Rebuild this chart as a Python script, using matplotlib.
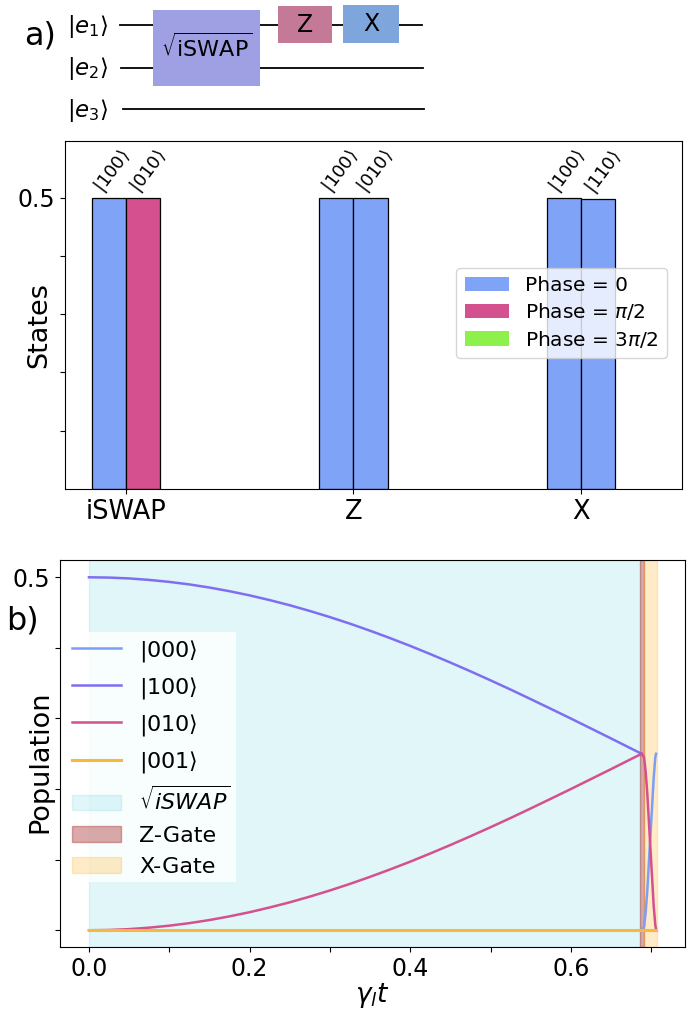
import numpy as np
import matplotlib
matplotlib.use("Agg")
import matplotlib.pyplot as plt
from matplotlib.patches import Patch, Rectangle

# ---------------- data ----------------
# panel a: bar chart of states after each gate
gates = ["iSWAP", "Z", "X"]
left_states = [r"$|100\rangle$", r"$|100\rangle$", r"$|100\rangle$"]
right_states = [r"$|010\rangle$", r"$|010\rangle$", r"$|110\rangle$"]
left_amp = [0.5, 0.5, 0.5]
right_amp = [0.5, 0.5, 0.498]
left_phase = [0, 0, 0]          # index into phase_labels
right_phase = [1, 0, 0]
phase_labels = [r"Phase = 0", r"Phase = $\pi/2$", r"Phase = $3\pi/2$"]
phase_colors = ["#7fa3f6", "#d4508e", "#8ef04a"]

# panel b: populations vs time
t_main = [0.0, 0.025, 0.05, 0.075, 0.10, 0.125, 0.15, 0.175, 0.20, 0.225,
          0.25, 0.275, 0.30, 0.325, 0.35, 0.375, 0.40, 0.425, 0.45, 0.475,
          0.50, 0.525, 0.55, 0.575, 0.60, 0.625, 0.65, 0.675, 0.688]
p100_main = [0.5000, 0.4996, 0.4984, 0.4963, 0.4935, 0.4899, 0.4855, 0.4803,
             0.4744, 0.4677, 0.4604, 0.4523, 0.4436, 0.4343, 0.4243, 0.4138,
             0.4028, 0.3912, 0.3792, 0.3668, 0.3540, 0.3409, 0.3274, 0.3137,
             0.2999, 0.2858, 0.2717, 0.2574, 0.2500]
p010_main = [0.0000, 0.0004, 0.0016, 0.0037, 0.0065, 0.0101, 0.0145, 0.0197,
             0.0256, 0.0323, 0.0396, 0.0477, 0.0564, 0.0657, 0.0757, 0.0862,
             0.0972, 0.1088, 0.1208, 0.1332, 0.1460, 0.1591, 0.1726, 0.1863,
             0.2001, 0.2142, 0.2283, 0.2426, 0.2500]
t_xgate = [0.688, 0.691, 0.693, 0.695, 0.697, 0.699, 0.701, 0.703, 0.705, 0.706]
p000_xgate = [0.000, 0.005, 0.025, 0.055, 0.095, 0.135, 0.175, 0.215, 0.245, 0.250]
p010_xgate = [0.250, 0.245, 0.225, 0.195, 0.155, 0.115, 0.075, 0.035, 0.008, 0.000]
t_001 = [0.0, 0.706]
p001 = [0.0, 0.0]
gate_bounds = [0.0, 0.686, 0.691, 0.707]   # sqrt(iSWAP) | Z | X
x_ticks_b = [0.0, 0.1, 0.2, 0.3, 0.4, 0.5, 0.6, 0.7]
x_ticklabels_b = ["0.0", "", "0.2", "", "0.4", "", "0.6", ""]
y_ticks = [0.0, 0.1, 0.2, 0.3, 0.4, 0.5]
y_ticklabels = ["", "", "", "", "", "0.5"]

# ---------------- figure ----------------
W, H = 693, 1010
fig = plt.figure(figsize=(W / 100, H / 100), dpi=100)


def fax(l, t, r, b):
    return [l / W, 1 - b / H, (r - l) / W, (b - t) / H]


# ---------- circuit ----------
axc = fig.add_axes([0, 1 - 130 / H, 1, 130 / H])
axc.set_xlim(0, W)
axc.set_ylim(130, 0)
axc.axis("off")
axc.text(40, 36, "a)", fontsize=23, ha="center", va="center")
wire_y = [25, 68, 109]
wire_x0 = [120, 121, 123]
wire_x1 = [422, 423, 424]
for i, (y, x0, x1) in enumerate(zip(wire_y, wire_x0, wire_x1)):
    axc.plot([x0, x1], [y, y], color="black", lw=1.3, zorder=1)
    axc.text(88, y + 1, r"$|e_{%d}\rangle$" % (i + 1), fontsize=16.5,
             ha="center", va="center")
axc.add_patch(Rectangle((153, 10), 107, 76, facecolor="#9f9fe3", edgecolor="none", zorder=2))
axc.text(206.5, 47, r"$\sqrt{\mathrm{iSWAP}}$", fontsize=16, ha="center", va="center", zorder=3)
axc.add_patch(Rectangle((278, 6), 54, 37, facecolor="#c47a96", edgecolor="none", zorder=2))
axc.text(305, 25, "Z", fontsize=17, ha="center", va="center", zorder=3)
axc.add_patch(Rectangle((343, 5), 56, 38, facecolor="#7fa6dc", edgecolor="none", zorder=2))
axc.text(371, 24, "X", fontsize=17, ha="center", va="center", zorder=3)

# ---------- panel a ----------
axa = fig.add_axes(fax(65, 141, 682, 489))
xg = np.arange(len(gates))
bw = 0.15
axa.bar(xg - bw / 2, left_amp, width=bw, color=[phase_colors[p] for p in left_phase],
        edgecolor="black", linewidth=0.9)
axa.bar(xg + bw / 2, right_amp, width=bw, color=[phase_colors[p] for p in right_phase],
        edgecolor="black", linewidth=0.9)
for i in range(len(gates)):
    axa.text(xg[i] - bw / 2 - 0.008, left_amp[i] + 0.001, left_states[i], rotation=53,
             rotation_mode="anchor", ha="left", va="bottom", fontsize=13)
    axa.text(xg[i] + bw / 2 - 0.002, right_amp[i] + 0.001, right_states[i], rotation=53,
             rotation_mode="anchor", ha="left", va="bottom", fontsize=13)
axa.set_xlim(-0.268, 2.444)
axa.set_ylim(0, 0.597)
axa.set_xticks(xg)
axa.set_xticklabels(gates, fontsize=18.5)
axa.set_yticks(y_ticks[1:])
axa.set_yticklabels(y_ticklabels[1:], fontsize=17)
axa.set_ylabel("States", fontsize=19.5)
axa.yaxis.set_label_coords((52 - 65) / 617, 0.47)
handles_a = [Patch(facecolor=c, edgecolor="none", label=l) for c, l in zip(phase_colors, phase_labels)]
axa.legend(handles=handles_a, loc="upper right", bbox_to_anchor=(0.975, 0.634),
           borderaxespad=0, fontsize=14.5, handlelength=2.2, labelspacing=0.3)

# ---------- panel b ----------
axb = fig.add_axes(fax(60, 560, 685, 947))
axb.axvspan(gate_bounds[0], gate_bounds[1], color="tab:cyan", alpha=0.13, label=r"$\sqrt{iSWAP}$")
axb.axvspan(gate_bounds[1], gate_bounds[2], facecolor="brown", edgecolor="brown", alpha=0.4, label="Z-Gate")
axb.axvspan(gate_bounds[2], gate_bounds[3], color="orange", alpha=0.22, label="X-Gate")
axb.plot(t_xgate, p000_xgate, color="#7c9ff5", lw=1.8, label=r"$|000\rangle$")
axb.plot(t_main, p100_main, color="#7f6ff0", lw=1.8, label=r"$|100\rangle$")
axb.plot(t_main, p010_main, color="#d4508e", lw=1.8, label=r"$|010\rangle$")
axb.plot(t_xgate, p010_xgate, color="#d4508e", lw=1.8)
axb.plot(t_001, p001, color="#f6b93c", lw=2.2, label=r"$|001\rangle$")
axb.set_xlim(-0.036, 0.742)
axb.set_ylim(-0.0237, 0.5245)
axb.set_xticks(x_ticks_b)
axb.set_xticklabels(x_ticklabels_b, fontsize=17)
axb.set_yticks(y_ticks)
axb.set_yticklabels(y_ticklabels, fontsize=17)
axb.set_xlabel(r"$\gamma_l t$", fontsize=19)
axb.xaxis.set_label_coords(0.5, (947 - 981) / 387)
axb.set_ylabel("Population", fontsize=19.5)
axb.yaxis.set_label_coords((53 - 60) / 625, 0.478)
h, lab = axb.get_legend_handles_labels()
order = [lab.index(k) for k in [r"$|000\rangle$", r"$|100\rangle$", r"$|010\rangle$", r"$|001\rangle$",
                                 r"$\sqrt{iSWAP}$", "Z-Gate", "X-Gate"]]
leg = axb.legend([h[i] for i in order], [lab[i] for i in order], loc="upper left",
                 bbox_to_anchor=(0.011, 0.814), borderaxespad=0, fontsize=16,
                 framealpha=0.8, fancybox=False, labelspacing=0.5, handlelength=2.2,
                 borderpad=0.25)
leg.get_frame().set_edgecolor("none")
fig.text(22 / W, 1 - 621 / H, "b)", fontsize=23, ha="center", va="center")

fig.savefig("out.png", dpi=100)
